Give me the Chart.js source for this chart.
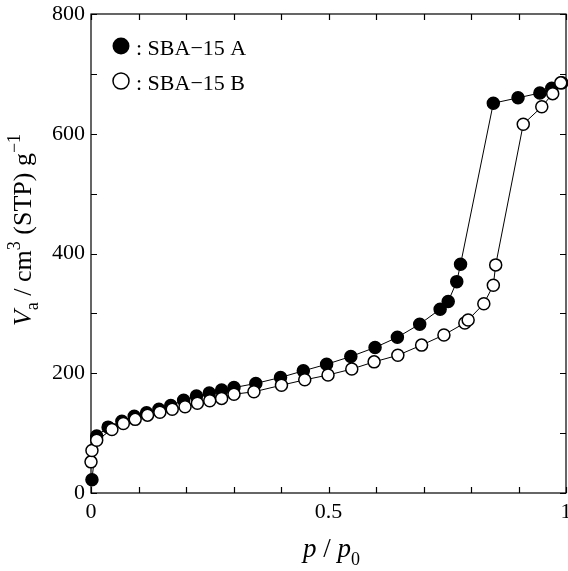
<!DOCTYPE html>
<html><head><meta charset="utf-8">
<script src="https://cdn.jsdelivr.net/npm/chart.js@4.4.0/dist/chart.umd.min.js"></script>
<style>html,body{margin:0;padding:0;background:#fff}#wrap{width:568px;height:571px}</style>
</head><body><div id="wrap"><canvas id="c" width="568" height="571"></canvas></div>
<script>
const seriesNames = ['SBA\u221215 A', 'SBA\u221215 B'];
const pressureA = [0.002, 0.012, 0.036, 0.065, 0.091, 0.117, 0.143, 0.168, 0.195, 0.222, 0.249, 0.275, 0.301, 0.347, 0.399, 0.447, 0.496, 0.547, 0.598, 0.645, 0.692, 0.735, 0.752, 0.770, 0.778, 0.847, 0.899, 0.945, 0.970, 0.991];
const volumeA   = [22, 95, 110, 120, 128, 134, 140, 146, 155, 162, 167, 172, 176, 183, 193, 204, 215, 228, 243, 260, 282, 307, 320, 353, 382, 651, 660, 668, 676, 685];
const pressureB = [0.0, 0.002, 0.012, 0.044, 0.068, 0.093, 0.119, 0.145, 0.171, 0.198, 0.224, 0.25, 0.275, 0.301, 0.343, 0.401, 0.45, 0.499, 0.549, 0.596, 0.646, 0.696, 0.743, 0.787, 0.794, 0.827, 0.847, 0.852, 0.91, 0.949, 0.972, 0.989];
const volumeB   = [52, 71, 88, 106, 116, 123, 130, 135, 140, 144, 150, 154, 158, 165, 169, 180, 189, 197, 207, 219, 230, 247, 264, 284, 289, 316, 347, 381, 616, 645, 667, 685];
const xTickLabels = [0, 0.5, 1];
const yTickLabels = [0, 200, 400, 600, 800];
const xMinorStep = 0.1;
const yMinorStep = 100;

const SERIF = "'Liberation Serif', 'Times New Roman', serif";
const toPts = (xs, ys) => xs.map((x, i) => ({x: x, y: ys[i]}));
const findLabel = (arr, v) => { const t = arr.find(a => Math.abs(a - v) < 1e-6); return t === undefined ? '' : String(t); };

function measurePieces(ctx, pieces, size) {
  let w = 0;
  for (const p of pieces) {
    const fs = p.sub || p.sup ? Math.round(size * 0.68) : size;
    ctx.font = (p.italic ? 'italic ' : '') + fs + 'px ' + SERIF;
    p._w = ctx.measureText(p.t).width; p._fs = fs; w += p._w;
  }
  return w;
}
function renderPieces(ctx, pieces, size) {
  let x = 0;
  for (const p of pieces) {
    ctx.font = (p.italic ? 'italic ' : '') + p._fs + 'px ' + SERIF;
    const dy = p.sub ? size * 0.28 : (p.sup ? -size * 0.42 : 0);
    ctx.fillText(p.t, x, dy);
    x += p._w;
  }
}

const framePlugin = {
  id: 'frame',
  beforeDatasetsDraw(chart) {
    const {ctx, chartArea: a, scales: {x, y}} = chart;
    ctx.save();
    ctx.strokeStyle = '#000'; ctx.lineWidth = 1.2;
    ctx.strokeRect(a.left, a.top, a.right - a.left, a.bottom - a.top);
    const L = 6;
    ctx.beginPath();
    for (let v = x.min; v <= x.max + 1e-9; v += xMinorStep) {
      const px = Math.round(x.getPixelForValue(v)) + 0.5;
      ctx.moveTo(px, a.bottom); ctx.lineTo(px, a.bottom - L);
      ctx.moveTo(px, a.top); ctx.lineTo(px, a.top + L);
    }
    for (let v = y.min; v <= y.max + 1e-9; v += yMinorStep) {
      const py = Math.round(y.getPixelForValue(v)) + 0.5;
      ctx.moveTo(a.left, py); ctx.lineTo(a.left + L, py);
      ctx.moveTo(a.right, py); ctx.lineTo(a.right - L, py);
    }
    ctx.stroke();
    ctx.restore();
  },
  afterDraw(chart) {
    const {ctx, chartArea: a, scales: {x}} = chart;
    ctx.save();
    ctx.fillStyle = '#000';
    ctx.font = '22px ' + SERIF;
    ctx.textAlign = 'center'; ctx.textBaseline = 'alphabetic';
    for (const t of xTickLabels) ctx.fillText(String(t), x.getPixelForValue(t), a.bottom + 25);
    ctx.textAlign = 'left';
    // legend
    ctx.beginPath(); ctx.arc(121, 46, 8.5, 0, Math.PI * 2); ctx.fill();
    ctx.beginPath(); ctx.arc(121, 81, 8, 0, Math.PI * 2);
    ctx.fillStyle = '#fff'; ctx.fill(); ctx.lineWidth = 1.5; ctx.strokeStyle = '#000'; ctx.stroke();
    ctx.fillStyle = '#000';
    ctx.font = '22px ' + SERIF;
    ctx.fillText(': ' + seriesNames[0], 136, 55);
    ctx.fillText(': ' + seriesNames[1], 136, 90);
    // x title
    const size = 26;
    const xp = [{t: 'p', italic: true}, {t: ' / '}, {t: 'p', italic: true}, {t: '0', sub: true}];
    const wx = measurePieces(ctx, xp, 27);
    ctx.save();
    ctx.translate((a.left + a.right) / 2 - wx / 2 + 3, 557);
    renderPieces(ctx, xp, 27);
    ctx.restore();
    // y title
    const yp = [{t: 'V', italic: true}, {t: 'a', sub: true}, {t: ' / cm'}, {t: '3', sup: true}, {t: ' (STP) g'}, {t: '\u22121', sup: true}];
    const wy = measurePieces(ctx, yp, size);
    ctx.save();
    ctx.translate(31, 230 + wy / 2);
    ctx.rotate(-Math.PI / 2);
    renderPieces(ctx, yp, size);
    ctx.restore();
    ctx.restore();
  }
};

const common = {showLine: true, borderColor: '#000', borderWidth: 1, pointRadius: 6, pointHoverRadius: 6,
  pointBorderColor: '#000', pointBorderWidth: 1.5, clip: false, tension: 0};

new Chart(document.getElementById('c'), {
  type: 'scatter',
  data: {datasets: [
    Object.assign({label: seriesNames[1], data: toPts(pressureB, volumeB), pointBackgroundColor: '#fff', order: 1}, common),
    Object.assign({label: seriesNames[0], data: toPts(pressureA, volumeA), pointBackgroundColor: '#000', order: 2}, common)
  ]},
  options: {
    responsive: false, animation: false, devicePixelRatio: 1,
    layout: {autoPadding: false, padding: {top: 14, right: 2, bottom: 0, left: 0}},
    plugins: {legend: {display: false}, tooltip: {enabled: false}},
    scales: {
      x: {type: 'linear', min: 0, max: 1,
        grid: {display: false, drawTicks: false}, border: {display: false},
        ticks: {display: false, stepSize: 0.5},
        afterFit: s => { s.height = 78; s.paddingLeft = 0; s.paddingRight = 0; }},
      y: {type: 'linear', min: 0, max: 800,
        grid: {display: false, drawTicks: false}, border: {display: false},
        ticks: {stepSize: 200, autoSkip: false, padding: 6, color: '#000',
          font: {family: SERIF, size: 22}, callback: v => findLabel(yTickLabels, v)},
        afterFit: s => { s.width = 91; s.paddingTop = 0; s.paddingBottom = 0; }}
    }
  },
  plugins: [framePlugin]
});
</script></body></html>
